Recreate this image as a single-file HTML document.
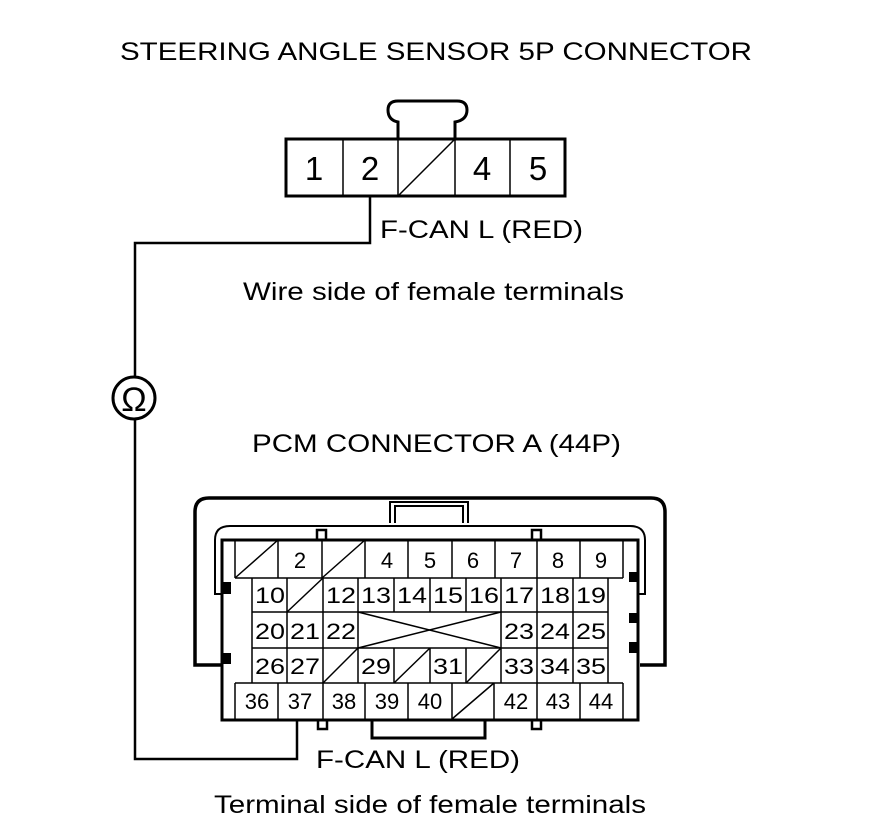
<!DOCTYPE html>
<html><head><style>html,body{margin:0;padding:0;background:#fff}svg{display:block}</style></head><body>
<svg width="880" height="838" viewBox="0 0 880 838" xmlns="http://www.w3.org/2000/svg" font-family="Liberation Sans, sans-serif" fill="none" stroke="#000">
<g fill="#000" stroke="none" font-size="25">
<text x="120" y="60" textLength="632" lengthAdjust="spacingAndGlyphs">STEERING ANGLE SENSOR 5P CONNECTOR</text>
<text x="380" y="238" textLength="203" lengthAdjust="spacingAndGlyphs">F-CAN L (RED)</text>
<text x="243" y="300" textLength="381" lengthAdjust="spacingAndGlyphs">Wire side of female terminals</text>
<text x="252" y="452" textLength="369" lengthAdjust="spacingAndGlyphs">PCM CONNECTOR A (44P)</text>
<text x="316" y="768" textLength="204" lengthAdjust="spacingAndGlyphs">F-CAN L (RED)</text>
<text x="214" y="813" textLength="432" lengthAdjust="spacingAndGlyphs">Terminal side of female terminals</text>
</g>
<path d="M398 139 V122 Q388 120 388 110 Q388 101 398 101 H457 Q467 101 467 110 Q467 120 455 122 V139" stroke-width="3"/>
<rect x="286" y="139" width="279" height="57" stroke-width="3"/>
<g stroke-width="1.5"><line x1="343" y1="139" x2="343" y2="196"/><line x1="398" y1="139" x2="398" y2="196"/><line x1="455" y1="139" x2="455" y2="196"/><line x1="510" y1="139" x2="510" y2="196"/><line x1="398" y1="196" x2="455" y2="139"/></g>
<g fill="#000" stroke="none" font-size="33" text-anchor="middle"><text x="314" y="180">1</text><text x="370" y="180">2</text><text x="482" y="180">4</text><text x="538" y="180">5</text></g>
<path d="M370 196 V243 H135 V376 M135 420 V759 H297 V720" stroke-width="2.5"/>
<circle cx="134" cy="398" r="21" stroke-width="3"/>
<text x="134" y="411" font-size="34" fill="#000" stroke="none" text-anchor="middle">Ω</text>
<path d="M223 665 H195 V512 Q195 498 209 498 H651 Q665 498 665 512 V665 H640" stroke-width="3.5"/>
<path d="M390 523 V502 H468 V523 M395 523 V506 H463 V523" stroke-width="2"/>
<path d="M222 594 H215 V540 Q215 526 230 526 H630 Q645 526 645 540 V594 H638" stroke-width="2"/>
<path d="M222 540 V720 H638 V540 Z" stroke-width="3"/>
<g stroke-width="2.5"><rect x="317" y="530" width="9" height="10"/><rect x="532" y="530" width="9" height="10"/><rect x="318" y="720" width="9" height="9"/><rect x="532" y="720" width="9" height="9"/></g>
<path d="M372 720 V738 H485 V720" stroke-width="3"/>
<g fill="#000" stroke="none"><rect x="222" y="582" width="9" height="12"/><rect x="222" y="653" width="9" height="11"/><rect x="629" y="572" width="9" height="10"/><rect x="629" y="613" width="9" height="10"/><rect x="629" y="642" width="9" height="11"/></g>
<g stroke-width="1.5">
<line x1="235" y1="540" x2="235" y2="578"/><line x1="623" y1="540" x2="623" y2="578"/>
<line x1="235" y1="578" x2="623" y2="578"/>
<line x1="278" y1="540" x2="278" y2="578"/><line x1="322" y1="540" x2="322" y2="578"/><line x1="365" y1="540" x2="365" y2="578"/><line x1="408" y1="540" x2="408" y2="578"/><line x1="452" y1="540" x2="452" y2="578"/><line x1="495" y1="540" x2="495" y2="578"/><line x1="537" y1="540" x2="537" y2="578"/><line x1="580" y1="540" x2="580" y2="578"/>
<line x1="235" y1="578" x2="278" y2="540"/><line x1="322" y1="578" x2="365" y2="540"/>
<line x1="252" y1="578" x2="252" y2="683"/><line x1="608" y1="578" x2="608" y2="683"/>
<line x1="252" y1="612" x2="608" y2="612"/><line x1="252" y1="648" x2="608" y2="648"/>
<line x1="287" y1="578" x2="287" y2="683"/><line x1="323" y1="578" x2="323" y2="683"/><line x1="358" y1="578" x2="358" y2="683"/>
<line x1="394" y1="578" x2="394" y2="612"/><line x1="430" y1="578" x2="430" y2="612"/><line x1="466" y1="578" x2="466" y2="612"/>
<line x1="394" y1="648" x2="394" y2="683"/><line x1="430" y1="648" x2="430" y2="683"/><line x1="466" y1="648" x2="466" y2="683"/>
<line x1="501" y1="578" x2="501" y2="683"/><line x1="537" y1="578" x2="537" y2="683"/><line x1="573" y1="578" x2="573" y2="683"/>
<line x1="287" y1="612" x2="323" y2="578"/>
<line x1="358" y1="612" x2="501" y2="648"/><line x1="358" y1="648" x2="501" y2="612"/>
<line x1="323" y1="683" x2="358" y2="648"/><line x1="394" y1="683" x2="430" y2="648"/><line x1="466" y1="683" x2="501" y2="648"/>
<line x1="235" y1="683" x2="623" y2="683"/><line x1="235" y1="683" x2="235" y2="719"/><line x1="623" y1="683" x2="623" y2="719"/>
<line x1="278" y1="683" x2="278" y2="719"/><line x1="323" y1="683" x2="323" y2="719"/><line x1="365" y1="683" x2="365" y2="719"/><line x1="408" y1="683" x2="408" y2="719"/><line x1="452" y1="683" x2="452" y2="719"/><line x1="494" y1="683" x2="494" y2="719"/><line x1="537" y1="683" x2="537" y2="719"/><line x1="580" y1="683" x2="580" y2="719"/>
<line x1="452" y1="719" x2="494" y2="683"/>
</g>
<g fill="#000" stroke="none" font-size="22" text-anchor="middle">
<text x="300" y="568">2</text><text x="387" y="568">4</text><text x="430" y="568">5</text><text x="473" y="568">6</text><text x="516" y="568">7</text><text x="558" y="568">8</text><text x="601" y="568">9</text>
<text x="270" y="603" textLength="30" lengthAdjust="spacingAndGlyphs">10</text><text x="341" y="603" textLength="30" lengthAdjust="spacingAndGlyphs">12</text><text x="376" y="603" textLength="30" lengthAdjust="spacingAndGlyphs">13</text><text x="412" y="603" textLength="30" lengthAdjust="spacingAndGlyphs">14</text><text x="448" y="603" textLength="30" lengthAdjust="spacingAndGlyphs">15</text><text x="484" y="603" textLength="30" lengthAdjust="spacingAndGlyphs">16</text><text x="519" y="603" textLength="30" lengthAdjust="spacingAndGlyphs">17</text><text x="555" y="603" textLength="30" lengthAdjust="spacingAndGlyphs">18</text><text x="591" y="603" textLength="30" lengthAdjust="spacingAndGlyphs">19</text>
<text x="270" y="639" textLength="30" lengthAdjust="spacingAndGlyphs">20</text><text x="305" y="639" textLength="30" lengthAdjust="spacingAndGlyphs">21</text><text x="341" y="639" textLength="30" lengthAdjust="spacingAndGlyphs">22</text><text x="519" y="639" textLength="30" lengthAdjust="spacingAndGlyphs">23</text><text x="555" y="639" textLength="30" lengthAdjust="spacingAndGlyphs">24</text><text x="591" y="639" textLength="30" lengthAdjust="spacingAndGlyphs">25</text>
<text x="270" y="674" textLength="30" lengthAdjust="spacingAndGlyphs">26</text><text x="305" y="674" textLength="30" lengthAdjust="spacingAndGlyphs">27</text><text x="376" y="674" textLength="30" lengthAdjust="spacingAndGlyphs">29</text><text x="448" y="674" textLength="30" lengthAdjust="spacingAndGlyphs">31</text><text x="519" y="674" textLength="30" lengthAdjust="spacingAndGlyphs">33</text><text x="555" y="674" textLength="30" lengthAdjust="spacingAndGlyphs">34</text><text x="591" y="674" textLength="30" lengthAdjust="spacingAndGlyphs">35</text>
<text x="257" y="709">36</text><text x="300" y="709">37</text><text x="344" y="709">38</text><text x="387" y="709">39</text><text x="430" y="709">40</text><text x="516" y="709">42</text><text x="558" y="709">43</text><text x="601" y="709">44</text>
</g>
</svg>
</body></html>
